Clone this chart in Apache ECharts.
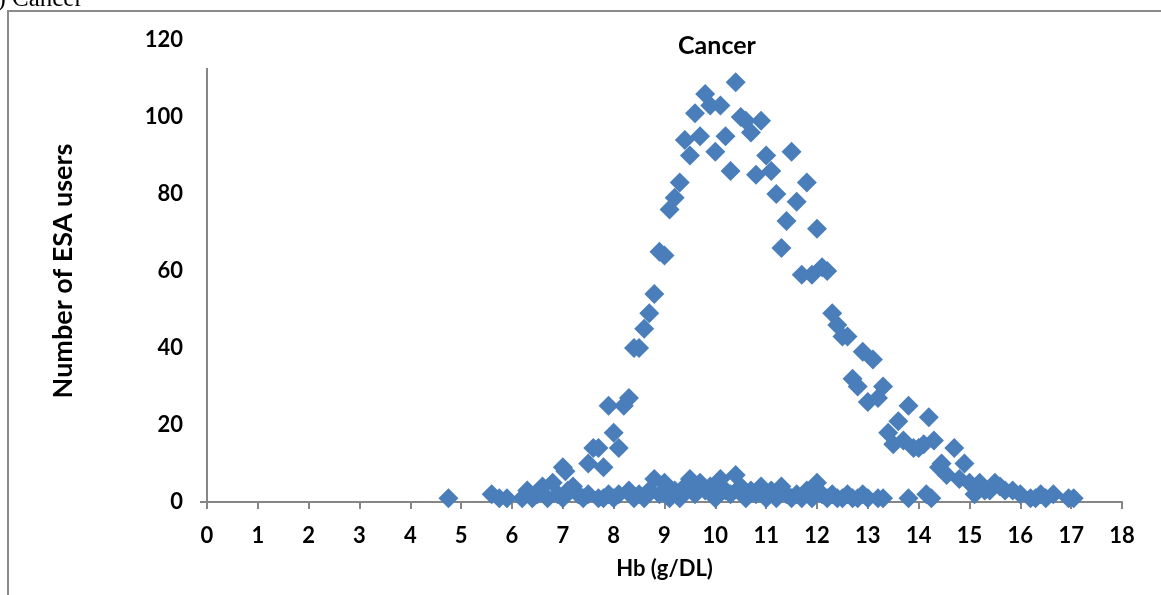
<!DOCTYPE html>
<html><head><meta charset="utf-8">
<script src="https://cdn.jsdelivr.net/npm/echarts@6/dist/echarts.min.js"></script>
<style>html,body{margin:0;padding:0;background:#fff;}#c{width:1161px;height:595px;}</style>
</head><body><div id="c"></div>
<script>
const titleText = 'Cancer';
const xAxisTitle = 'Hb (g/DL)';
const yAxisTitle = 'Number of ESA users';
const panelLabel = '(a) Cancer';
const xTicks = [0,1,2,3,4,5,6,7,8,9,10,11,12,13,14,15,16,17,18];
const yTicks = [0,20,40,60,80,100,120];

// Bell-shaped group: [Hb, count]
const bellPoints = [
  [7.0,9],[7.05,8],[7.5,10],[7.6,14],[7.7,14],[7.8,9],[7.9,25],[8.0,18],[8.1,14],[8.2,25],[8.3,27],
  [8.4,40],[8.5,40],[8.6,45],[8.7,49],[8.8,54],[8.9,65],[9.0,64],[9.1,76],[9.2,79],[9.3,83],
  [9.4,94],[9.5,90],[9.6,101],[9.7,95],[9.8,106],[9.9,103],[10.0,91],[10.1,103],[10.2,95],
  [10.3,86],[10.4,109],[10.5,100],[10.6,99],[10.7,96],[10.8,85],[10.9,99],[11.0,90],[11.1,86],
  [11.2,80],[11.3,66],[11.4,73],[11.5,91],[11.6,78],[11.7,59],[11.8,83],[11.9,59],[12.0,71],
  [12.1,61],[12.2,60],[12.3,49],[12.4,46],[12.5,43],[12.6,43],[12.7,32],[12.8,30],[12.9,39],
  [13.0,26],[13.1,37],[13.2,27],[13.3,30],[13.4,18],[13.5,15],[13.6,21],[13.7,16],[13.8,25],
  [13.9,14],[14.0,14],[14.1,15],[14.2,22],[14.3,16],[14.4,9],[14.45,10],[14.55,7],[14.7,14],
  [14.8,6],[14.9,10],[15.0,5],[15.1,2],[15.2,5],[15.3,3],[15.5,5]
];

// Low-count group: [Hb, count]
const lowPoints = [
  [4.75,1],[5.6,2],[5.75,1],[5.9,1],[6.2,1],[6.3,3],[6.4,1],[6.5,2],[6.6,4],[6.7,1],[6.8,5],
  [6.9,2],[7.0,1],[7.1,3],[7.2,4],[7.3,2],[7.4,1],[7.5,2],[7.7,1],[7.8,1],[7.9,2],[8.0,1],
  [8.1,2],[8.3,3],[8.4,1],[8.5,2],[8.6,1],[8.7,3],[8.8,6],[8.9,2],[9.0,5],[9.1,1],[9.2,3],
  [9.3,1],[9.4,4],[9.5,6],[9.6,2],[9.7,5],[9.8,3],[9.9,4],[10.0,1],[10.1,6],[10.2,3],[10.3,2],
  [10.4,7],[10.5,4],[10.6,1],[10.7,3],[10.8,2],[10.9,4],[11.0,1],[11.1,3],[11.2,1],[11.3,4],
  [11.4,2],[11.5,1],[11.6,2],[11.7,1],[11.8,3],[11.9,1],[12.0,5],[12.1,2],[12.2,1],[12.3,2],
  [12.4,1],[12.5,1],[12.6,2],[12.7,1],[12.8,1],[12.9,2],[13.0,1],[13.2,1],[13.3,1],[13.8,1],
  [14.15,2],[14.25,1],[15.4,3],[15.6,4],[15.7,3],[15.85,3],[16.0,2],[16.2,1],[16.3,1],[16.4,2],
  [16.5,1],[16.65,2],[16.95,1],[17.05,1]
];

const axisGray = '#868686';
const markerColor = '#4A7EBB';
const fontFam = 'Lato, "Open Sans", sans-serif';

const chart = echarts.init(document.getElementById('c'), null, {renderer:'canvas'});
const option = {
  animation:false,
  backgroundColor:'#fff',
  title:[
    {text:titleText,left:712,top:28,textAlign:'center',
      textStyle:{fontFamily:fontFam,fontWeight:'bold',fontSize:25,color:'#000'}},
    {text:panelLabel,left:-22,top:-13,padding:0,
      textStyle:{fontFamily:'"Liberation Serif", serif',fontWeight:'normal',fontSize:25,color:'#000'}}
  ],
  grid:{left:207,right:39,top:40,bottom:93},
  xAxis:{type:'value',min:xTicks[0],max:xTicks[xTicks.length-1],interval:1,
    name:xAxisTitle,nameLocation:'middle',nameGap:56,
    nameTextStyle:{fontFamily:fontFam,fontWeight:'bold',fontSize:22,color:'#000'},
    axisLine:{show:true,onZero:false,lineStyle:{color:axisGray,width:2}},
    axisTick:{show:true,inside:false,length:7,lineStyle:{color:axisGray,width:2}},
    axisLabel:{margin:23,fontFamily:fontFam,fontWeight:'bold',fontSize:22,color:'#000'},
    splitLine:{show:false}},
  yAxis:{type:'value',min:yTicks[0],max:yTicks[yTicks.length-1],interval:20,
    name:yAxisTitle,nameLocation:'middle',nameGap:130,nameRotate:90,
    nameTextStyle:{fontFamily:fontFam,fontWeight:'bold',fontSize:27,color:'#000'},
    axisLine:{show:false},
    axisTick:{show:false},
    axisLabel:{margin:24,fontFamily:fontFam,fontWeight:'bold',fontSize:22,color:'#000'},
    splitLine:{show:false}},
  series:[
    {type:'scatter',data:lowPoints,symbol:'diamond',symbolSize:20,itemStyle:{color:markerColor,opacity:1},z:2},
    {type:'scatter',data:bellPoints,symbol:'diamond',symbolSize:20,itemStyle:{color:markerColor,opacity:1},z:3}
  ]
};
chart.setOption(option);
const p0 = chart.convertToPixel({gridIndex:0},[0,0]);
const pTop = chart.convertToPixel({gridIndex:0},[0,112.7]);
chart.setOption({graphic:[
  {type:'line',shape:{x1:p0[0],y1:p0[1],x2:pTop[0],y2:pTop[1]},style:{stroke:axisGray,lineWidth:2},z:1},
  {type:'line',shape:{x1:p0[0]-7,y1:p0[1],x2:p0[0],y2:p0[1]},style:{stroke:axisGray,lineWidth:2},z:1},
  {type:'rect',shape:{x:8,y:11,width:1200,height:700},style:{fill:null,stroke:'#8a8a8a',lineWidth:2},silent:true,z:0}
]});
</script></body></html>
